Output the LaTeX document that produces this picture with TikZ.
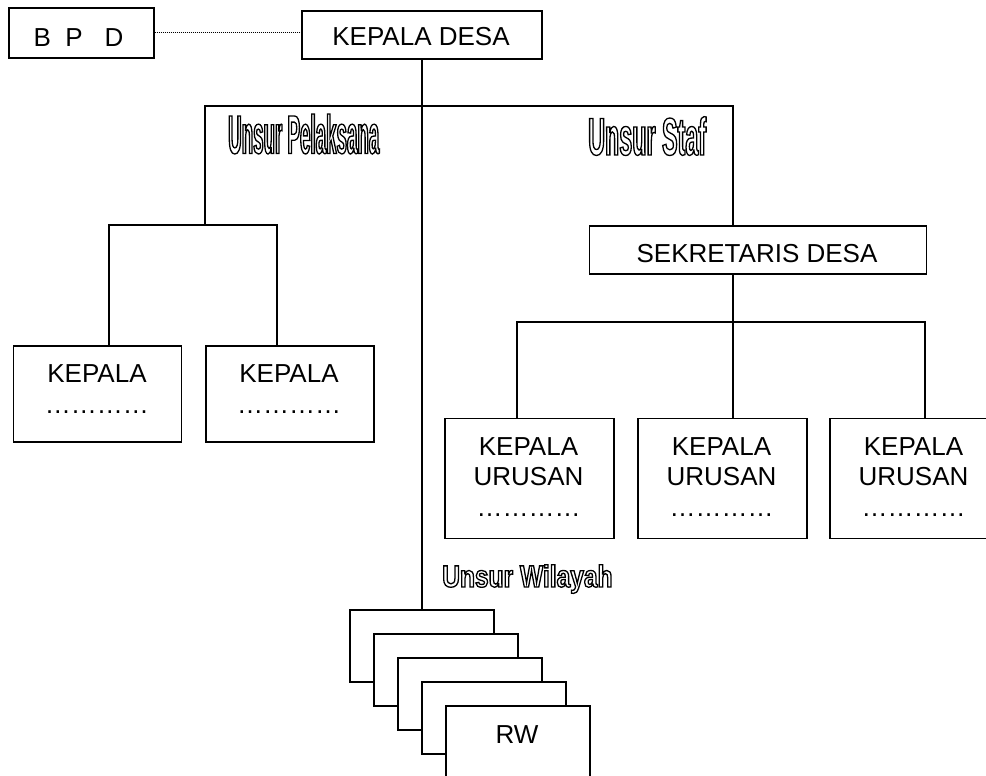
\documentclass[tikz,border=0pt]{standalone}
\usepackage{fontspec}
\usepackage{graphicx}
\setmainfont{Liberation Sans}
\newfontfamily\lblA[FakeStretch=0.344]{Liberation Sans}
\newfontfamily\lblB[FakeStretch=0.44]{Liberation Sans}
\newfontfamily\lblC[FakeStretch=0.80]{Liberation Sans}
\newcommand\hollowtxt[1]{\special{pdf:literal direct 1 Tr 1.3 w}#1\special{pdf:literal direct 0 Tr}}
\begin{document}
\begin{tikzpicture}[x=1pt,y=-1pt,
  box/.style={draw, line width=1.7pt, fill=white, inner sep=0pt, anchor=north west},
  conn/.style={line width=1.7pt},
  dotline/.style={line width=0.9pt, dash pattern=on 1pt off 1pt},
  txt/.style={inner sep=0pt, anchor=base, font=\fontsize{26}{30}\selectfont},
  lbl/.style={inner sep=0pt, anchor=base west}]
\useasboundingbox (0,0) rectangle (986,776);

% boxes
\node[box, minimum width=145pt, minimum height=50pt] (bpd) at (8,7) {};
\node[box, minimum width=240pt, minimum height=48pt] (kd) at (301,10) {};
\node[box, minimum width=168pt, minimum height=96pt] (kp1) at (12.7,345) {};
\node[box, minimum width=168pt, minimum height=96pt] (kp2) at (205,345) {};
\node[box, minimum width=337pt, minimum height=48pt] (sek) at (588.7,225.3) {};
\node[box, minimum width=169pt, minimum height=120pt] (ku1) at (444,417.5) {};
\node[box, minimum width=169pt, minimum height=120pt] (ku2) at (637,417.5) {};
\node[box, minimum width=169pt, minimum height=120pt] (ku3) at (829,417.5) {};

% texts
\node[txt] (bpdt) at (78.5,46.4) {B\ \ P\ \ \ D};
\node[txt] (kdt) at (421,46) {KEPALA DESA};
\node[txt] (kp1a) at (97,382.7) {KEPALA};
\node[txt] (kp1b) at (97,413) {…………};
\node[txt] (kp2a) at (289,382.7) {KEPALA};
\node[txt] (kp2b) at (289,413) {…………};
\node[txt] (sekt) at (757,262.7) {SEKRETARIS DESA};
\node[txt] (ku1a) at (528.5,455) {KEPALA};
\node[txt] (ku1b) at (528.5,485) {URUSAN};
\node[txt] (ku1c) at (528.5,516) {…………};
\node[txt] (ku2a) at (721.5,455) {KEPALA};
\node[txt] (ku2b) at (721.5,485) {URUSAN};
\node[txt] (ku2c) at (721.5,516) {…………};
\node[txt] (ku3a) at (913.5,455) {KEPALA};
\node[txt] (ku3b) at (913.5,485) {URUSAN};
\node[txt] (ku3c) at (913.5,516) {…………};

% outlined labels
\node[lbl] (lpel) at (228,153.5) {\hollowtxt{\lblA\bfseries\fontsize{54.5}{60}\selectfont Unsur Pelaksana}};
\node[lbl] (lstaf) at (588,155) {\hollowtxt{\lblB\bfseries\fontsize{53}{60}\selectfont Unsur Staf}};
\node[lbl] (lwil) at (442,587) {\hollowtxt{\lblC\bfseries\fontsize{30.7}{34}\selectfont Unsur Wilayah}};

% coordinates of the branch points
\coordinate (pl) at (205,106);
\coordinate (st) at (733,106);
\coordinate (plb) at (205,225);
\coordinate (pla) at (109,225);
\coordinate (plc) at (277,225);
\coordinate (ka) at (517,322);
\coordinate (kc) at (925,322);

% connectors
\draw[dotline] (bpd.east) -- (bpd.east -| kd.west);
\draw[conn] (kp1.north -| pla) -- (pla) -- (plc) -- (kp2.north -| plc);
\draw[conn] (plb) -- (pl) -- (st) -- (st |- sek.north);
\draw[conn] (st |- sek.south) -- (st |- ku2.north);
\draw[conn] (ku1.north -| ka) -- (ka) -- (kc) -- (ku3.north -| kc);

% RW stack
\node[box, minimum width=144pt, minimum height=72pt] (rw1) at (349,609) {};
\node[box, minimum width=144pt, minimum height=72pt] (rw2) at (373,633) {};
\node[box, minimum width=144pt, minimum height=72pt] (rw3) at (397,657) {};
\node[box, minimum width=144pt, minimum height=72pt] (rw4) at (421,681) {};
\node[box, minimum width=144pt, minimum height=72pt] (rw5) at (445,705) {};
\node[txt] (rwt) at (517,743) {RW};

\draw[conn] (kd.south) -- (rw1.north);
\end{tikzpicture}
\end{document}
